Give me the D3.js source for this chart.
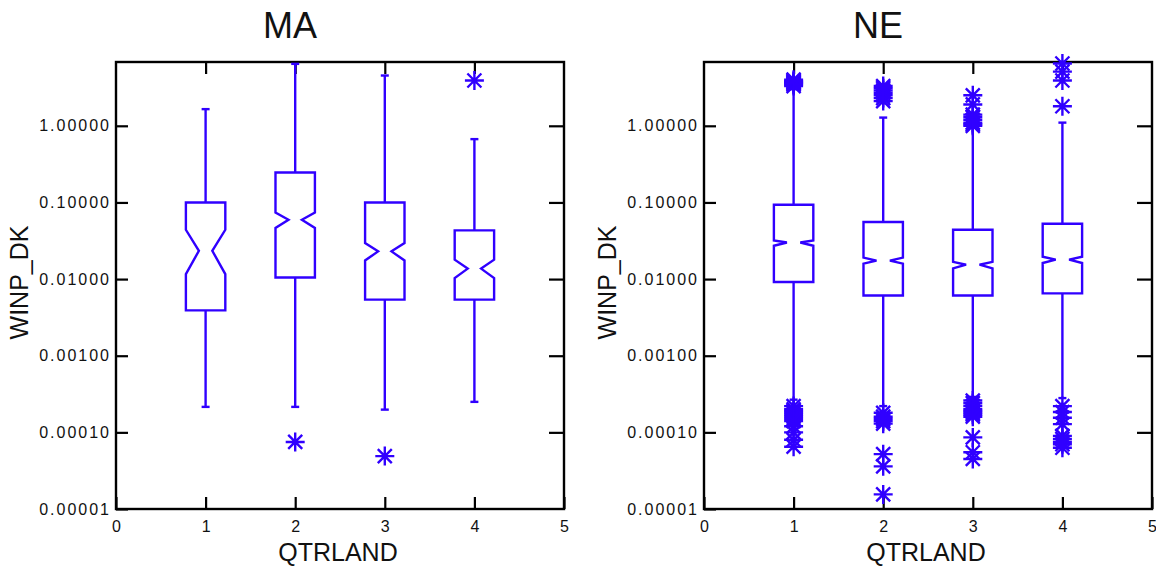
<!DOCTYPE html>
<html>
<head>
<meta charset="utf-8">
<script src="https://cdn.jsdelivr.net/npm/d3@7"></script>
<style>
  html, body { margin: 0; padding: 0; background: #fff; }
  svg { display: block; font-family: "Liberation Sans", Arial, sans-serif; }
</style>
</head>
<body>
<svg id="chart" width="1156" height="566"></svg>
<script>
// ---- data ----
const categories = [1, 2, 3, 4];
const panelNames = ['MA', 'NE'];
const xTicks = [0, 1, 2, 3, 4, 5];
const yTicks = [0.00001, 0.0001, 0.001, 0.01, 0.1, 1];
const yDomain = [0.00001, 6.8];

const maWhiskerLo = [0.000215, 0.000215, 0.000198, 0.00025];
const maQ1        = [0.0039, 0.0105, 0.0054, 0.0054];
const maNotchLo   = [0.0116, 0.0464, 0.0175, 0.0103];
const maMedian    = [0.0234, 0.0594, 0.023, 0.0137];
const maNotchHi   = [0.044, 0.074, 0.0295, 0.0179];
const maQ3        = [0.1, 0.246, 0.1, 0.0432];
const maWhiskerHi = [1.65, 6.43, 4.53, 0.67];
const maOutliers  = [[], [0.000075], [0.000049], [3.9]];

const neWhiskerLo = [0.000267, 0.00022, 0.00029, 0.00028];
const neQ1        = [0.00917, 0.0061, 0.0061, 0.0065];
const neNotchLo   = [0.0272, 0.0159, 0.0138, 0.0162];
const neMedian    = [0.030, 0.0174, 0.0154, 0.0179];
const neNotchHi   = [0.0319, 0.0191, 0.0168, 0.0196];
const neQ3        = [0.0933, 0.0555, 0.044, 0.0527];
const neWhiskerHi = [3.0, 1.28, 0.95, 1.1];
const neOutliers  = [
  [3.3, 3.45, 3.55, 3.65, 3.75, 3.85, 4.0,
   0.00022, 0.0002, 0.00019, 0.00018, 0.00017, 0.00016, 0.00015, 0.00014, 0.00012, 0.0001, 0.00008, 0.000065],
  [2.1, 2.3, 2.5, 2.7, 2.9, 3.1, 3.3,
   0.00018, 0.00016, 0.00015, 0.00014, 0.00013, 0.000052, 0.000036, 0.0000155],
  [1.0, 1.05, 1.1, 1.2, 1.3, 1.4, 1.9, 2.5,
   0.00026, 0.00024, 0.00022, 0.0002, 0.00019, 0.00018, 0.00017, 0.00016, 0.000086, 0.000055, 0.000045],
  [1.8, 3.9, 5.1, 6.5,
   0.00022, 0.000184, 0.000155, 0.000128, 0.00009, 0.000082, 0.000075, 0.00007, 0.000063]
];

function buildStats(lo, q1, nlo, med, nhi, q3, hi, out) {
  return categories.map((c, i) => ({
    cat: c, lo: lo[i], q1: q1[i], nlo: nlo[i], med: med[i],
    nhi: nhi[i], q3: q3[i], hi: hi[i], out: out[i]
  }));
}

const panels = [
  { name: panelNames[0], left: 116,
    stats: buildStats(maWhiskerLo, maQ1, maNotchLo, maMedian, maNotchHi, maQ3, maWhiskerHi, maOutliers) },
  { name: panelNames[1], left: 704,
    stats: buildStats(neWhiskerLo, neQ1, neNotchLo, neMedian, neNotchHi, neQ3, neWhiskerHi, neOutliers) }
];

// ---- layout ----
const svg = d3.select('#chart');
const plotTop = 62, plotW = 448, plotH = 447;
const blue = '#3000ff';
const boxHalf = 0.22;     // in x units
const notchK = 0.34;      // notch half-width relative to box half-width
const capHalf = 4;
const starR = 9.5, starD = 7;

function starPath(r, d) {
  return `M${-r},0L${r},0M0,${-r}L0,${r}M${-d},${-d}L${d},${d}M${-d},${d}L${d},${-d}`;
}

panels.forEach(p => {
  const g = svg.append('g').attr('transform', `translate(${p.left},${plotTop})`);

  const x = d3.scaleLinear().domain([0, 5]).range([0, plotW]);
  const y = d3.scaleLog().domain(yDomain).range([plotH, 0]);

  // axes (inward ticks)
  const tickStyle = sel => {
    sel.select('.domain').remove();
    sel.selectAll('.tick line').attr('stroke', '#000').attr('stroke-width', 2.2);
    sel.selectAll('.tick text').attr('fill', '#111').style('font-size', '16px');
  };

  g.append('g')
    .attr('transform', `translate(0,${plotH})`)
    .call(d3.axisBottom(x).tickValues(xTicks).tickSize(-12).tickPadding(12).tickFormat(d3.format('d')))
    .call(tickStyle);

  g.append('g')
    .call(d3.axisTop(x).tickValues(categories).tickSize(-12).tickFormat(''))
    .call(tickStyle);

  g.append('g')
    .call(d3.axisLeft(y).tickValues(yTicks).tickSize(-12).tickPadding(5).tickFormat(d => d.toFixed(5)))
    .call(tickStyle)
    .call(s => s.selectAll('.tick text').style('letter-spacing', '2px'));

  g.append('g')
    .attr('transform', `translate(${plotW},0)`)
    .call(d3.axisRight(y).tickValues(yTicks.slice(1)).tickSize(-15).tickFormat(''))
    .call(tickStyle);

  g.append('rect')
    .attr('x', 0).attr('y', 0).attr('width', plotW).attr('height', plotH)
    .attr('fill', 'none').attr('stroke', '#000').attr('stroke-width', 2.4);

  // boxes
  const boxes = g.append('g').attr('fill', 'none').attr('stroke', blue).attr('stroke-width', 2.4);

  p.stats.forEach(s => {
    const xc = x(s.cat);
    const w = x(boxHalf) - x(0);
    const wn = w * notchK;

    // whiskers
    boxes.append('line').attr('x1', xc).attr('x2', xc).attr('y1', y(s.q3)).attr('y2', y(s.hi));
    boxes.append('line').attr('x1', xc).attr('x2', xc).attr('y1', y(s.q1)).attr('y2', y(s.lo));
    boxes.append('line').attr('x1', xc - capHalf).attr('x2', xc + capHalf).attr('y1', y(s.hi)).attr('y2', y(s.hi));
    boxes.append('line').attr('x1', xc - capHalf).attr('x2', xc + capHalf).attr('y1', y(s.lo)).attr('y2', y(s.lo));

    // notched box
    const pts = [
      [xc - w, y(s.q3)], [xc + w, y(s.q3)], [xc + w, y(s.nhi)], [xc + wn, y(s.med)],
      [xc + w, y(s.nlo)], [xc + w, y(s.q1)], [xc - w, y(s.q1)], [xc - w, y(s.nlo)],
      [xc - wn, y(s.med)], [xc - w, y(s.nhi)]
    ];
    boxes.append('path').attr('d', d3.line()(pts) + 'Z');

    // outliers
    boxes.selectAll(null)
      .data(s.out)
      .join('path')
      .attr('transform', v => `translate(${xc},${y(v)})`)
      .attr('d', starPath(starR, starD));
  });

  // labels
  g.append('text')
    .attr('x', plotW / 2 - 50).attr('y', 38 - plotTop)
    .attr('text-anchor', 'middle')
    .style('font-size', '36px')
    .attr('fill', '#111')
    .text(p.name);

  g.append('text')
    .attr('x', plotW / 2 - 2).attr('y', 561 - plotTop)
    .attr('text-anchor', 'middle')
    .style('font-size', '25px')
    .attr('fill', '#111')
    .text('QTRLAND');

  g.append('text')
    .attr('transform', 'rotate(-90)')
    .attr('x', -plotH / 2 + 3).attr('y', -88)
    .attr('text-anchor', 'middle')
    .style('font-size', '25px')
    .attr('fill', '#111')
    .text('WINP_DK');
});
</script>
</body>
</html>
